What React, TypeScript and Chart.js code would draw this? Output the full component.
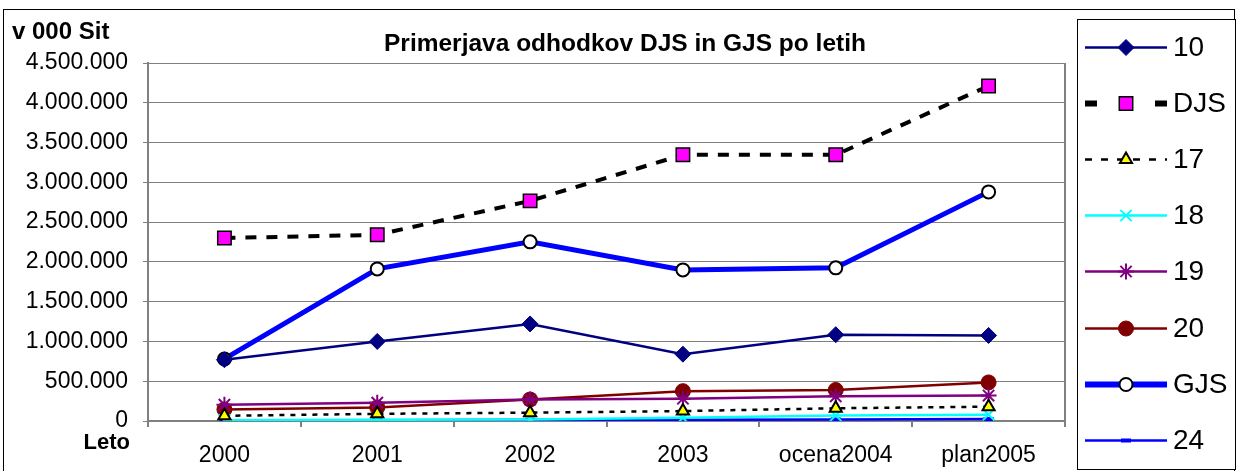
import React, { useEffect, useRef } from 'react';
import { Chart, registerables } from 'chart.js';
import * as helpers from 'chart.js/helpers';

Chart.register(...registerables);

const categories = ['2000', '2001', '2002', '2003', 'ocena2004', 'plan2005'];
const s10 = [770000, 1000000, 1220000, 840000, 1085000, 1075000];
const sDJS = [2300000, 2340000, 2767000, 3346000, 3346000, 4212000];
const s17 = [65000, 90000, 105000, 125000, 160000, 180000];
const s18 = [10000, 15000, 20000, 40000, 70000, 80000];
const s19 = [205000, 230000, 270000, 280000, 310000, 320000];
const s20 = [145000, 170000, 270000, 375000, 390000, 485000];
const sGJS = [780000, 1912000, 2252000, 1899000, 1925000, 2880000];
const s24 = [5000, 10000, 15000, 15000, 20000, 25000];

const seriesNames = ['10', 'DJS', '17', '18', '19', '20', 'GJS', '24'];
const yTickValues = [0, 500000, 1000000, 1500000, 2000000, 2500000, 3000000, 3500000, 4000000, 4500000];
const yTickLabels = ['0', '500.000', '1.000.000', '1.500.000', '2.000.000', '2.500.000', '3.000.000', '3.500.000', '4.000.000', '4.500.000'];
const titleText = 'Primerjava odhodkov DJS in GJS po letih';
const yAxisTitle = 'v 000 Sit';
const xAxisTitle = 'Leto';

const FONT = '"Liberation Sans", Arial, sans-serif';

type Style = {
  color: string;
  width: number;
  dash: number[];
  pointStyle: string;
  radius: number;
  pointBg: string;
  pointBorder: string;
  pointBorderWidth: number;
  legendWidth: number;
  legendDash: number[];
};

const styles: Style[] = [
  { color: '#000080', width: 2.5, dash: [], pointStyle: 'rectRot', radius: 8, pointBg: '#000080', pointBorder: '#000080', pointBorderWidth: 1, legendWidth: 2.5, legendDash: [] },
  { color: '#000000', width: 4, dash: [11, 10], pointStyle: 'rect', radius: 9.5, pointBg: '#FF00FF', pointBorder: '#000000', pointBorderWidth: 1.5, legendWidth: 6, legendDash: [12, 23] },
  { color: '#000000', width: 2.5, dash: [5, 6], pointStyle: 'triangle', radius: 7, pointBg: '#FFFF00', pointBorder: '#000000', pointBorderWidth: 2, legendWidth: 2.5, legendDash: [7, 9] },
  { color: '#00FFFF', width: 2.5, dash: [], pointStyle: 'crossRot', radius: 8, pointBg: '#00FFFF', pointBorder: '#00FFFF', pointBorderWidth: 2, legendWidth: 2.5, legendDash: [] },
  { color: '#800080', width: 2.5, dash: [], pointStyle: 'star', radius: 8, pointBg: '#800080', pointBorder: '#800080', pointBorderWidth: 2, legendWidth: 2.5, legendDash: [] },
  { color: '#800000', width: 2.5, dash: [], pointStyle: 'circle', radius: 7.5, pointBg: '#800000', pointBorder: '#800000', pointBorderWidth: 1, legendWidth: 2.5, legendDash: [] },
  { color: '#0000FF', width: 5, dash: [], pointStyle: 'circle', radius: 6.5, pointBg: '#FFFFFF', pointBorder: '#000000', pointBorderWidth: 2, legendWidth: 6, legendDash: [] },
  { color: '#0000FF', width: 2.5, dash: [], pointStyle: 'line', radius: 5, pointBg: '#0000FF', pointBorder: '#0000FF', pointBorderWidth: 4, legendWidth: 2.5, legendDash: [] },
];

const seriesData = [s10, sDJS, s17, s18, s19, s20, sGJS, s24];

const decorPlugin = {
  id: 'decor',
  afterDraw(chart: any) {
    const ctx = chart.ctx as CanvasRenderingContext2D;
    const ca = chart.chartArea;
    ctx.save();
    ctx.setLineDash([]);
    ctx.strokeStyle = '#808080';
    ctx.lineWidth = 2;
    ctx.beginPath();
    ctx.moveTo(ca.right, ca.top);
    ctx.lineTo(ca.right, ca.bottom);
    ctx.stroke();

    ctx.fillStyle = '#000';
    ctx.textBaseline = 'alphabetic';
    ctx.font = `bold 24.5px ${FONT}`;
    ctx.textAlign = 'center';
    ctx.fillText(titleText, 625, 51);
    ctx.font = `bold 24px ${FONT}`;
    ctx.textAlign = 'left';
    ctx.fillText(yAxisTitle, 12, 39);
    ctx.font = `bold 22px ${FONT}`;
    ctx.textAlign = 'right';
    ctx.fillText(xAxisTitle, 130, 449);

    ctx.strokeStyle = '#000';
    ctx.lineWidth = 1;
    ctx.strokeRect(3.5, 9.5, 1231, 470);

    ctx.fillStyle = '#fff';
    ctx.fillRect(1078, 20, 157, 449);
    ctx.strokeRect(1077.5, 19.5, 158, 450);

    const x0 = 1085, x1 = 1167, xm = 1126;
    for (let i = 0; i < seriesNames.length; i++) {
      const st = styles[i];
      const y = Math.round(47 + i * 56.1) + 0.5;
      ctx.strokeStyle = st.color;
      ctx.lineWidth = st.legendWidth;
      ctx.setLineDash(st.legendDash);
      ctx.lineCap = 'butt';
      ctx.beginPath();
      ctx.moveTo(x0, y);
      ctx.lineTo(x1, y);
      ctx.stroke();
      ctx.setLineDash([]);
      ctx.fillStyle = st.pointBg;
      ctx.strokeStyle = st.pointBorder;
      ctx.lineWidth = st.pointBorderWidth;
      (helpers as any).drawPoint(ctx, { pointStyle: st.pointStyle, radius: st.radius, rotation: 0, borderWidth: st.pointBorderWidth }, xm, y);
      ctx.fillStyle = '#000';
      ctx.font = `28px ${FONT}`;
      ctx.textAlign = 'left';
      ctx.textBaseline = 'middle';
      ctx.fillText(seriesNames[i], 1173, y + 1);
    }
    ctx.restore();
  },
};

export default function App() {
  const ref = useRef<HTMLCanvasElement | null>(null);
  useEffect(() => {
    if (!ref.current) return;
    Chart.defaults.font.family = FONT;
    const datasets = seriesNames.map((name, i) => {
      const st = styles[i];
      return {
        label: name,
        data: seriesData[i],
        borderColor: st.color,
        backgroundColor: st.pointBg,
        borderWidth: st.width,
        borderDash: st.dash,
        pointStyle: st.pointStyle as any,
        pointRadius: st.radius,
        pointBackgroundColor: st.pointBg,
        pointBorderColor: st.pointBorder,
        pointBorderWidth: st.pointBorderWidth,
        tension: 0,
        fill: false,
      };
    });
    const chart = new Chart(ref.current, {
      type: 'line',
      data: { labels: categories, datasets },
      options: {
        responsive: false,
        animation: false,
        layout: { padding: { left: 0, right: 172, top: 63, bottom: 0 } },
        plugins: { legend: { display: false }, tooltip: { enabled: false }, title: { display: false } },
        scales: {
          x: {
            offset: true,
            grid: { offset: true, drawOnChartArea: false, tickLength: 6, color: '#808080', lineWidth: 2 },
            border: { display: true, color: '#808080', width: 2 },
            ticks: { color: '#000', font: { size: 23, family: FONT }, padding: 15, maxRotation: 0, autoSkip: false },
            afterFit: (scale: any) => { scale.height = 50; },
          },
          y: {
            min: 0,
            max: 4500000,
            grid: { color: '#808080', lineWidth: 1, tickLength: 5 },
            border: { display: true, color: '#808080', width: 2 },
            ticks: {
              stepSize: 500000,
              color: '#000',
              font: { size: 23, family: FONT },
              padding: 15,
              callback: (v: any) => {
                const idx = yTickValues.indexOf(Number(v));
                return idx >= 0 ? yTickLabels[idx] : '';
              },
            },
            afterFit: (scale: any) => { scale.width = 148; },
          },
        },
      },
      plugins: [decorPlugin],
    });
    return () => chart.destroy();
  }, []);
  return (
    <div style={{ position: 'absolute', left: 0, top: 0, width: 1237, height: 471, background: '#fff' }}>
      <canvas ref={ref} width={1237} height={471} style={{ width: 1237, height: 471, display: 'block' }} />
    </div>
  );
}
